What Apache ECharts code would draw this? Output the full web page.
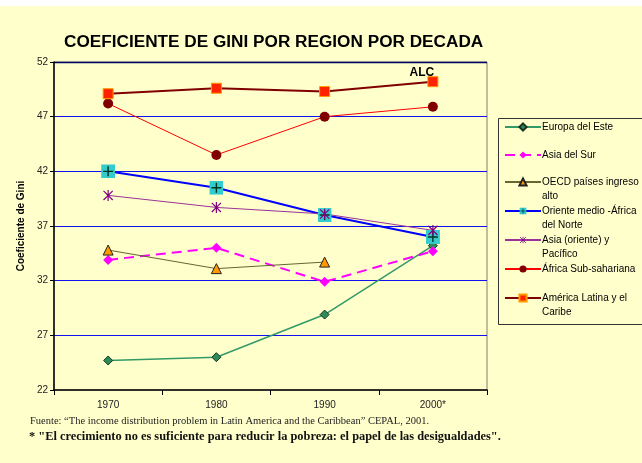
<!DOCTYPE html>
<html>
<head>
<meta charset="utf-8">
<script src="https://cdn.jsdelivr.net/npm/echarts@6/dist/echarts.min.js"></script>
<style>
html,body{margin:0;padding:0;background:#ffffff;}
#chart{width:642px;height:463px;}
</style>
</head>
<body>
<div id="chart"></div>
<script>
// ---- data ----
var categories = ['1970', '1980', '1990', '2000*'];
var yTicks = { min: 22, max: 52, interval: 5 };
var europaEste = [24.7, 25.0, 28.9, 35.2];
var asiaSur = [33.9, 35.0, 31.9, 34.7];
var oecd = [34.8, 33.1, 33.7, null];
var orienteMedio = [42.0, 40.5, 38.0, 36.0];
var asiaOriente = [39.8, 38.7, 38.1, 36.6];
var africaSub = [48.2, 43.5, 47.0, 47.9];
var americaLatina = [49.1, 49.6, 49.3, 50.2];
var seriesNames = ['Europa del Este', 'Asia del Sur', 'OECD países ingreso alto',
  'Oriente medio -África del Norte', 'Asia (oriente) y Pacífico', 'África Sub-sahariana',
  'América Latina y el Caribe'];
var legendLabels = ['Europa del Este', 'Asia del Sur', 'OECD países ingreso\nalto',
  'Oriente medio -África\ndel Norte', 'Asia (oriente) y\nPacífico', 'África Sub-sahariana',
  'América Latina y el\nCaribe'];
var lastLabel = 'ALC';

// ---- styles ----
function svgImg(svg) { return 'image://data:image/svg+xml;charset=utf-8,' + encodeURIComponent(svg); }
var symOriente = svgImg('<svg xmlns="http://www.w3.org/2000/svg" width="14" height="14" viewBox="0 0 14 14"><rect x="0" y="0" width="14" height="14" fill="#33cccc"/><path d="M7 2V12M2 7H12" stroke="#003322" stroke-width="1.4"/></svg>');
var symAsiaOr = svgImg('<svg xmlns="http://www.w3.org/2000/svg" width="12" height="12" viewBox="0 0 12 12"><path d="M1 1L11 11M11 1L1 11M6 0V12" stroke="#800080" stroke-width="1.3"/></svg>');

var font = '"Liberation Sans", Arial, sans-serif';
var serif = '"Liberation Serif", "Times New Roman", serif';

var chart = echarts.init(document.getElementById('chart'), null, { renderer: 'canvas' });

var series = [
  { name: seriesNames[0], type: 'line', data: europaEste, symbol: 'diamond', symbolSize: 9,
    lineStyle: { color: '#339966', width: 1.5 }, itemStyle: { color: '#2e8b57', borderColor: '#1a3322', borderWidth: 1 } },
  { name: seriesNames[1], type: 'line', data: asiaSur, symbol: 'diamond', symbolSize: 10,
    lineStyle: { color: '#ff00ff', width: 2, type: [10, 6] }, itemStyle: { color: '#ff00ff' } },
  { name: seriesNames[2], type: 'line', data: oecd, symbol: 'triangle', symbolSize: 10,
    lineStyle: { color: '#666633', width: 1 }, itemStyle: { color: '#ff9900', borderColor: '#222', borderWidth: 1 } },
  { name: seriesNames[3], type: 'line', data: orienteMedio, symbol: symOriente, symbolSize: 14,
    lineStyle: { color: '#0000ff', width: 2 }, itemStyle: { color: '#33cccc' } },
  { name: seriesNames[4], type: 'line', data: asiaOriente, symbol: symAsiaOr, symbolSize: 11,
    lineStyle: { color: '#993399', width: 1 }, itemStyle: { color: '#800080' } },
  { name: seriesNames[5], type: 'line', data: africaSub, symbol: 'circle', symbolSize: 10,
    lineStyle: { color: '#ff0000', width: 1 }, itemStyle: { color: '#800000' } },
  { name: seriesNames[6], type: 'line',
    data: americaLatina.map(function (v, i) {
      return i === americaLatina.length - 1 ? { value: v, label: { show: true, formatter: lastLabel, position: 'top', offset: [-11, 8], fontFamily: font, fontWeight: 'bold', fontSize: 12, color: '#000' } } : v;
    }),
    symbol: 'rect', symbolSize: 10,
    lineStyle: { color: '#800000', width: 2 }, itemStyle: { color: '#ff2200', borderColor: '#ff9900', borderWidth: 1 } }
];
series.forEach(function (s) { s.animation = false; s.z = 3; });

// first-line centres of the legend entries
var legendCentres = [127, 155, 182, 211, 240, 269, 298];
var legends = seriesNames.map(function (n, i) {
  var two = legendLabels[i].indexOf('\n') >= 0;
  return {
    data: [n], orient: 'vertical', left: 504, top: two ? legendCentres[i] - 21 : legendCentres[i] - 7,
    itemWidth: 36, itemHeight: 9, itemGap: 0, padding: 0,
    selectedMode: false,
    formatter: function () { return two ? '\n' + legendLabels[i] : legendLabels[i]; },
    textStyle: { fontFamily: font, fontSize: 10, color: '#000', lineHeight: 14, padding: [0, 0, 0, -4] }
  };
});

chart.setOption({
  backgroundColor: '#ffffcc',
  animation: false,
  title: {
    text: 'COEFICIENTE DE GINI POR REGION POR DECADA',
    left: 59, top: 29,
    textStyle: { fontFamily: font, fontSize: 17.2, fontWeight: 'bold', color: '#000' }
  },
  legend: legends,
  grid: { left: 54, right: 155, top: 62, bottom: 73, show: true, borderColor: '#808070', borderWidth: 1, backgroundColor: 'transparent' },
  xAxis: {
    type: 'category', data: categories, boundaryGap: true,
    axisLine: { lineStyle: { color: '#000', width: 1.5 } },
    axisTick: { show: true, inside: false, length: 5, lineStyle: { color: '#000' } },
    axisLabel: { fontFamily: font, fontSize: 10, color: '#222', margin: 10 },
    splitLine: { show: false }
  },
  yAxis: {
    type: 'value', min: yTicks.min, max: yTicks.max, interval: yTicks.interval,
    name: 'Coeficiente de Gini', nameLocation: 'middle', nameGap: 27, nameRotate: 90,
    nameTextStyle: { fontFamily: font, fontSize: 10, fontWeight: 'bold', color: '#000' },
    axisLine: { show: true, lineStyle: { color: '#000', width: 1.5 } },
    axisTick: { show: true, length: 4, lineStyle: { color: '#000' } },
    axisLabel: { fontFamily: font, fontSize: 10, color: '#222', margin: 6 },
    splitLine: { show: true, showMinLine: false, showMaxLine: false, lineStyle: { color: '#1111ee', width: 1 } }
  },
  graphic: [
    { type: 'rect', left: 0, top: 0, shape: { width: 642, height: 6 }, style: { fill: '#ffffff' }, silent: true },
    { type: 'line', shape: { x1: 54, y1: 62.5, x2: 487, y2: 62.5 }, style: { stroke: '#000066', lineWidth: 1.5 }, silent: true },
    { type: 'rect', left: 498, top: 118, shape: { width: 150, height: 206 }, style: { fill: 'transparent', stroke: '#333', lineWidth: 1 }, silent: true },
    { type: 'text', left: 30, top: 416, style: { text: 'Fuente: \u201cThe income distribution problem in Latin America and the Caribbean\u201d CEPAL, 2001.', font: '10.5px ' + serif, fill: '#222' } },
    { type: 'text', left: 29, top: 431, style: { text: '* "El crecimiento no es suficiente para reducir la pobreza: el papel de las desigualdades".', font: 'bold 12.4px ' + serif, fill: '#111' } }
  ],
  series: series
});
</script>
</body>
</html>
